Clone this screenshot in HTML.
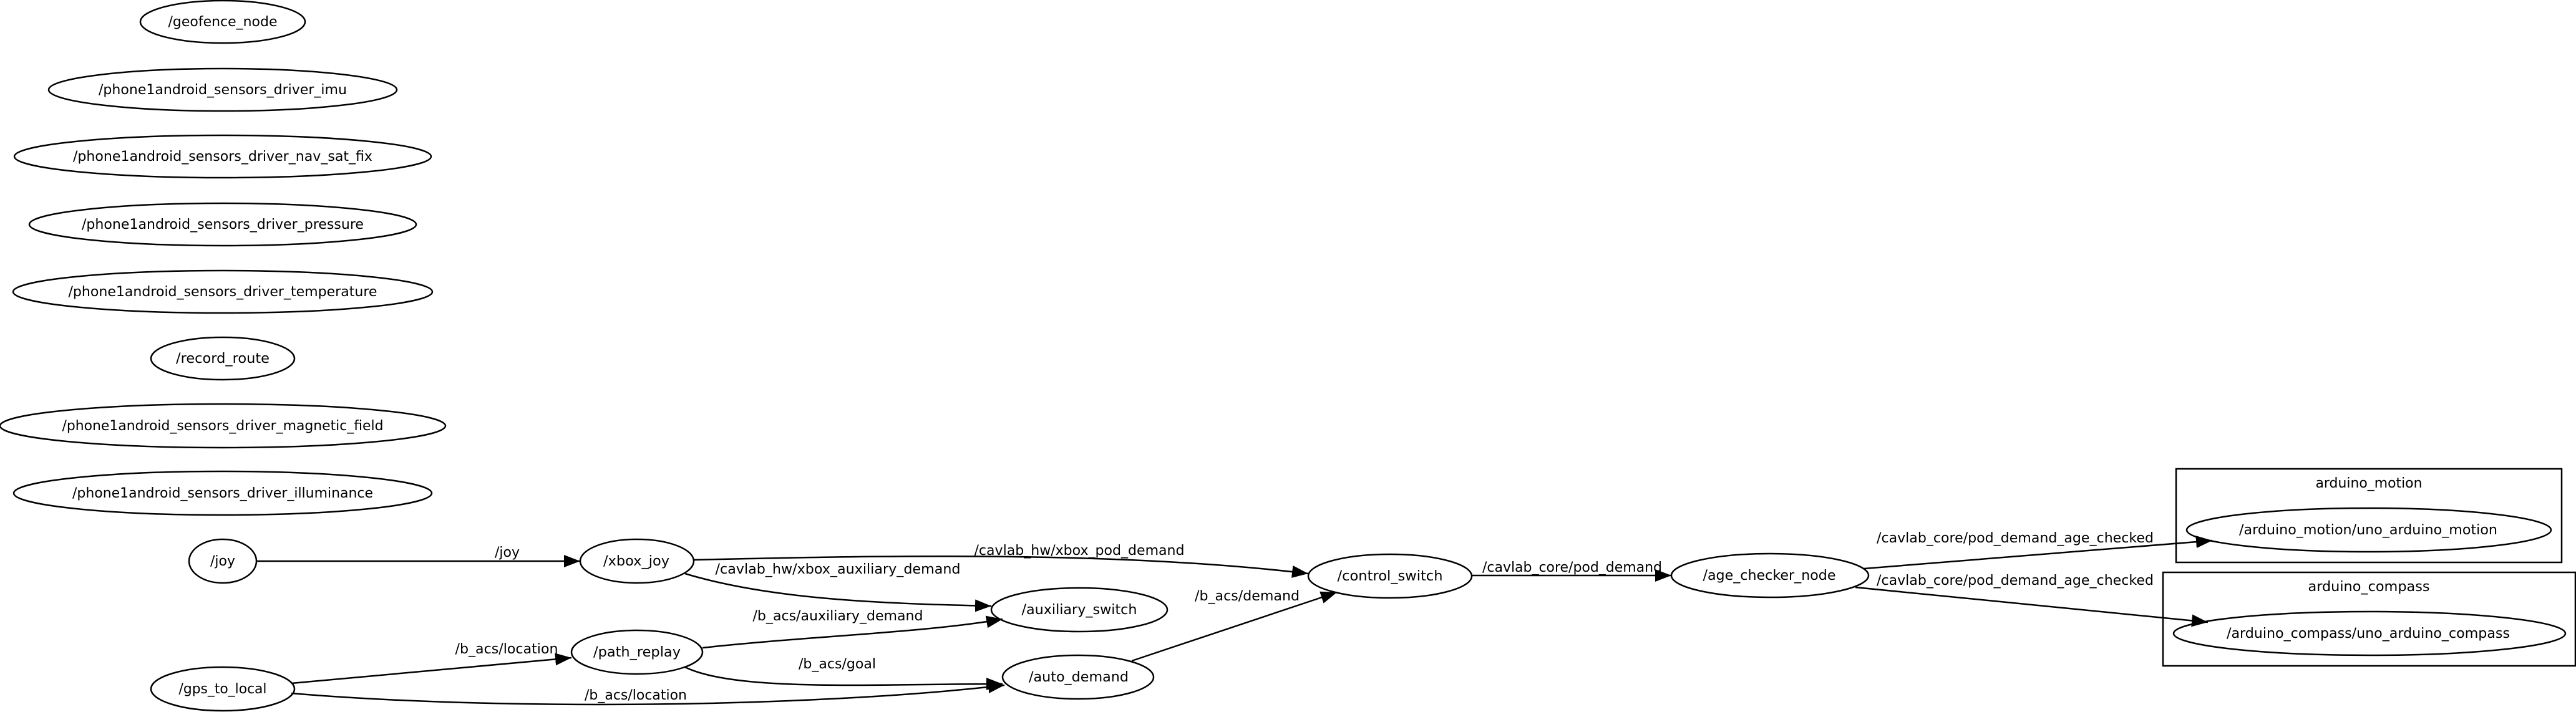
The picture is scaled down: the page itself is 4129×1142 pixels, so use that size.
<!DOCTYPE html>
<html><head><meta charset="utf-8"><style>
html,body{margin:0;padding:0;background:#fff;}
svg{display:block;}
text{font-family:"DejaVu Sans","Liberation Sans",sans-serif;font-size:22px;fill:#000;}
</style></head><body>
<svg width="4129" height="1142" viewBox="0 0 4129 1142" xmlns="http://www.w3.org/2000/svg">
<defs>
<marker id="a" markerUnits="userSpaceOnUse" markerWidth="28" markerHeight="20" refX="26" refY="10" orient="auto">
<path d="M0,0 L26,10 L0,20 Z" fill="#000"/>
</marker>
</defs>
<g fill="none" stroke="#000" stroke-width="2.5">
<ellipse cx="357" cy="35" rx="132" ry="34"/>
<ellipse cx="357" cy="144" rx="279" ry="34"/>
<ellipse cx="357" cy="251" rx="334" ry="34"/>
<ellipse cx="357" cy="360" rx="310" ry="34"/>
<ellipse cx="357" cy="468" rx="336" ry="34"/>
<ellipse cx="357" cy="575" rx="115" ry="34"/>
<ellipse cx="357" cy="683" rx="357" ry="35"/>
<ellipse cx="357" cy="791" rx="335" ry="35"/>
<ellipse cx="357" cy="900" rx="54" ry="35"/>
<ellipse cx="357" cy="1105" rx="115" ry="35"/>
<ellipse cx="1021" cy="900" rx="91" ry="35"/>
<ellipse cx="2228" cy="924" rx="131" ry="35"/>
<ellipse cx="1730" cy="978" rx="141" ry="35"/>
<ellipse cx="1021" cy="1046" rx="105" ry="35"/>
<ellipse cx="1728" cy="1086" rx="121" ry="35"/>
<ellipse cx="2837" cy="923" rx="158" ry="35"/>
<rect x="3488" y="752" width="618" height="150"/>
<rect x="3467" y="918" width="661" height="150"/>
<ellipse cx="3797" cy="850" rx="292" ry="35"/>
<ellipse cx="3798" cy="1016" rx="314" ry="35"/>
</g>
<g fill="none" stroke="#000" stroke-width="2.5" marker-end="url(#a)">
<path d="M411,900 L930,900"/>
<path d="M1112,898 C1450,890 1800,885 2097,920"/>
<path d="M1098,920 C1230,960 1400,968 1589,972"/>
<path d="M1126,1039 C1300,1020 1480,1015 1607,993"/>
<path d="M1098,1070 C1180,1110 1400,1097 1607,1097"/>
<path d="M467,1096 L916,1055"/>
<path d="M467,1112 C800,1140 1300,1135 1610,1099"/>
<path d="M1814,1060 L2143,950"/>
<path d="M2358,923 L2679,923"/>
<path d="M2988,912 L3546,867"/>
<path d="M2974,942 L3539,998"/>
</g>
<g text-anchor="middle" lengthAdjust="spacingAndGlyphs">
<text x="357" y="42" textLength="175" lengthAdjust="spacingAndGlyphs">/geofence_node</text>
<text x="357" y="151" textLength="398" lengthAdjust="spacingAndGlyphs">/phone1android_sensors_driver_imu</text>
<text x="357" y="258" textLength="480" lengthAdjust="spacingAndGlyphs">/phone1android_sensors_driver_nav_sat_fix</text>
<text x="357" y="367" textLength="452" lengthAdjust="spacingAndGlyphs">/phone1android_sensors_driver_pressure</text>
<text x="357" y="475" textLength="495" lengthAdjust="spacingAndGlyphs">/phone1android_sensors_driver_temperature</text>
<text x="357" y="582" textLength="150" lengthAdjust="spacingAndGlyphs">/record_route</text>
<text x="357" y="690" textLength="515" lengthAdjust="spacingAndGlyphs">/phone1android_sensors_driver_magnetic_field</text>
<text x="357" y="798" textLength="482" lengthAdjust="spacingAndGlyphs">/phone1android_sensors_driver_illuminance</text>
<text x="357" y="907" textLength="40" lengthAdjust="spacingAndGlyphs">/joy</text>
<text x="357" y="1112" textLength="141" lengthAdjust="spacingAndGlyphs">/gps_to_local</text>
<text x="1020" y="907" textLength="106" lengthAdjust="spacingAndGlyphs">/xbox_joy</text>
<text x="2228" y="931" textLength="169" lengthAdjust="spacingAndGlyphs">/control_switch</text>
<text x="1730" y="985" textLength="185" lengthAdjust="spacingAndGlyphs">/auxiliary_switch</text>
<text x="1021" y="1053" textLength="140" lengthAdjust="spacingAndGlyphs">/path_replay</text>
<text x="1729" y="1093" textLength="160" lengthAdjust="spacingAndGlyphs">/auto_demand</text>
<text x="2836" y="930" textLength="213" lengthAdjust="spacingAndGlyphs">/age_checker_node</text>
<text x="3796" y="857" textLength="414" lengthAdjust="spacingAndGlyphs">/arduino_motion/uno_arduino_motion</text>
<text x="3796" y="1023" textLength="454" lengthAdjust="spacingAndGlyphs">/arduino_compass/uno_arduino_compass</text>
<text x="3797" y="782" textLength="171" lengthAdjust="spacingAndGlyphs">arduino_motion</text>
<text x="3797" y="948" textLength="195" lengthAdjust="spacingAndGlyphs">arduino_compass</text>
<text x="813" y="893" textLength="40" lengthAdjust="spacingAndGlyphs">/joy</text>
<text x="1730" y="890" textLength="337" lengthAdjust="spacingAndGlyphs">/cavlab_hw/xbox_pod_demand</text>
<text x="1343" y="920" textLength="393" lengthAdjust="spacingAndGlyphs">/cavlab_hw/xbox_auxiliary_demand</text>
<text x="1343" y="995" textLength="273" lengthAdjust="spacingAndGlyphs">/b_acs/auxiliary_demand</text>
<text x="1999" y="963" textLength="168" lengthAdjust="spacingAndGlyphs">/b_acs/demand</text>
<text x="812" y="1048" textLength="165" lengthAdjust="spacingAndGlyphs">/b_acs/location</text>
<text x="1342" y="1072" textLength="124" lengthAdjust="spacingAndGlyphs">/b_acs/goal</text>
<text x="1019" y="1122" textLength="164" lengthAdjust="spacingAndGlyphs">/b_acs/location</text>
<text x="2520" y="917" textLength="288" lengthAdjust="spacingAndGlyphs">/cavlab_core/pod_demand</text>
<text x="3230" y="870" textLength="444" lengthAdjust="spacingAndGlyphs">/cavlab_core/pod_demand_age_checked</text>
<text x="3230" y="938" textLength="444" lengthAdjust="spacingAndGlyphs">/cavlab_core/pod_demand_age_checked</text>
</g>
</svg>
</body></html>
